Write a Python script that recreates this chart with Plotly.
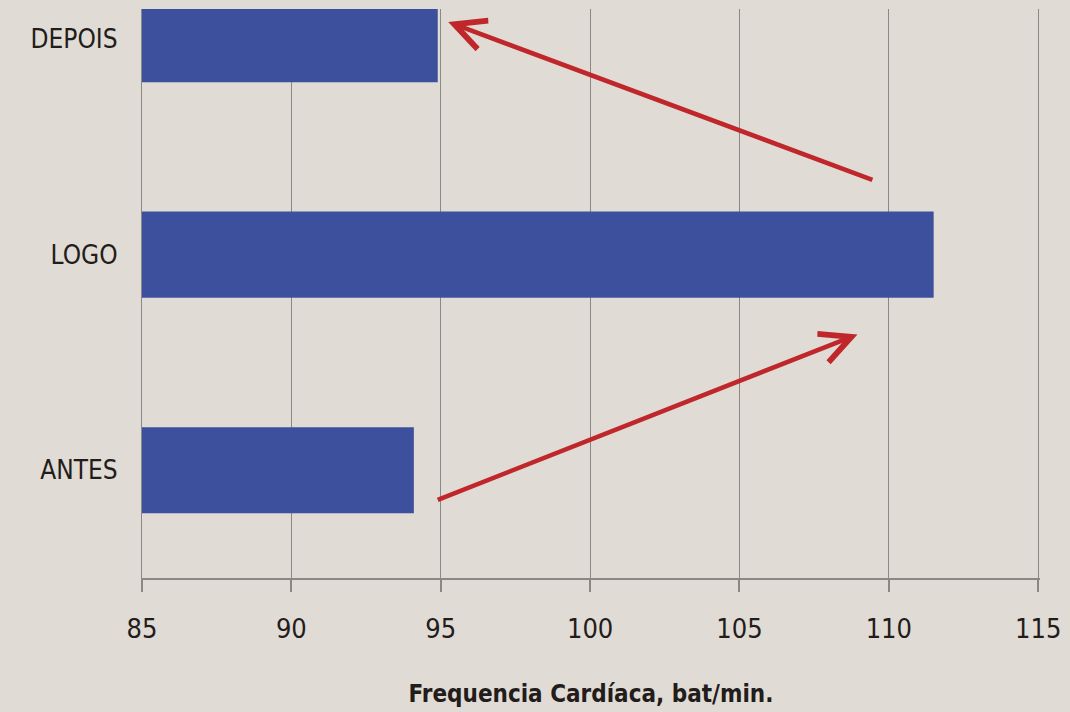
import plotly.graph_objects as go

# Heart-rate values (beats per minute) at each moment
categories = ["ANTES", "LOGO", "DEPOIS"]
heart_rate = [94.1, 111.5, 94.9]
base_rate = 85

x_ticks = [85, 90, 95, 100, 105, 110, 115]

# Arrows showing the rise and fall of the heart rate: (tail_x, tail_y, head_x, head_y)
rise_arrow = (94.85, -0.14, 108.95, 0.63)
fall_arrow = (109.5, 1.345, 95.25, 2.08)

BG = "#e1dbd5"
BAR = "#3c509e"
RED = "#bf272b"
TEXT = "#221d1b"
GRID = "#8a8784"
FONT = "Liberation Sans Narrow, DejaVu Sans Condensed, Arial Narrow, sans-serif"

fig = go.Figure()
fig.add_trace(go.Bar(
    x=[v - base_rate for v in heart_rate],
    y=categories,
    base=base_rate,
    orientation="h",
    width=0.4,
    marker=dict(color=BAR, line=dict(width=0)),
    customdata=heart_rate,
    hovertemplate="%{y}: %{customdata} bat/min<extra></extra>",
    showlegend=False,
))

for tx, ty, hx, hy in (rise_arrow, fall_arrow):
    fig.add_annotation(
        x=hx, y=hy, ax=tx, ay=ty,
        xref="x", yref="y", axref="x", ayref="y",
        showarrow=True, arrowhead=5, arrowsize=1.3, arrowwidth=4.6,
        arrowcolor=RED, text="",
    )

fig.update_layout(
    width=1070, height=712,
    paper_bgcolor=BG, plot_bgcolor=BG,
    margin=dict(l=142, r=26, t=9, b=134),
    font=dict(family=FONT, color=TEXT),
)
fig.update_xaxes(
    range=[85, 115.06], tickvals=x_ticks,
    showgrid=True, gridcolor=GRID, gridwidth=1.4,
    zeroline=False, showline=True, linecolor=GRID, linewidth=1.6,
    ticks="outside", ticklen=12, tickcolor=GRID, tickwidth=1.6,
    ticklabelstandoff=14,
    tickfont=dict(size=27, family=FONT, color=TEXT),
    title=dict(text="<b>Frequencia Cardíaca, bat/min.</b>",
               font=dict(size=24, family=FONT, color=TEXT), standoff=42),
)
fig.update_yaxes(
    range=[-0.5, 2.14],
    categoryorder="array", categoryarray=categories,
    showgrid=False, zeroline=False,
    showline=True, linecolor=GRID, linewidth=1.4,
    ticks="", ticklabelstandoff=18,
    tickfont=dict(size=26, family=FONT, color=TEXT),
)

fig.write_html("out.html")
